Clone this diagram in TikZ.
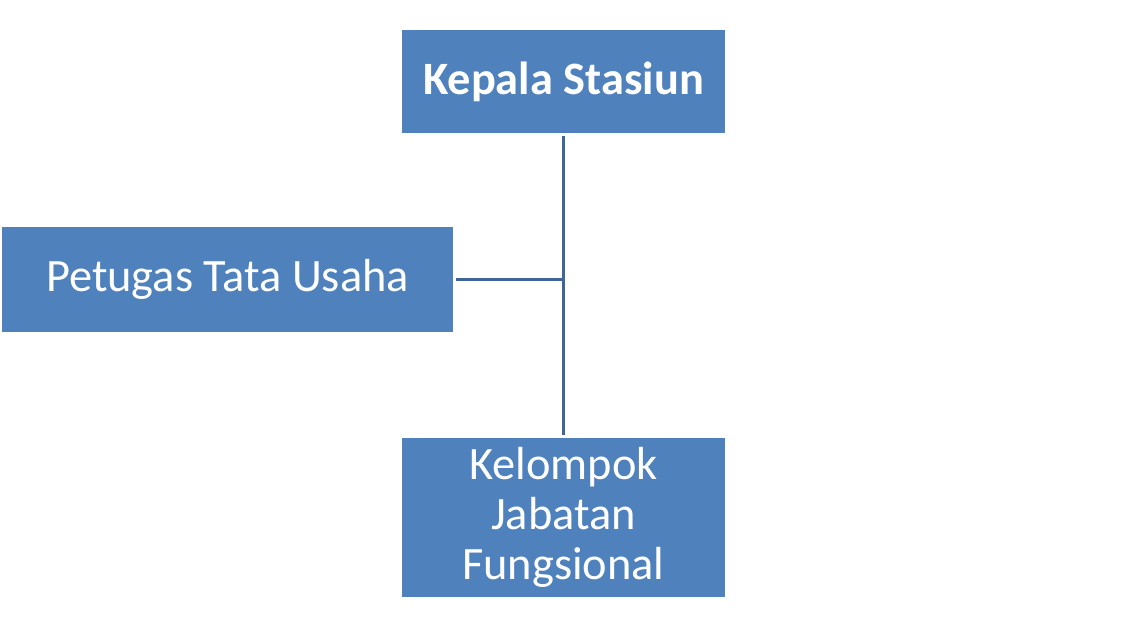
\documentclass[tikz,border=0pt]{standalone}
\usepackage{fontspec}
\setmainfont{Carlito}
\usepackage{tikz}
\usetikzlibrary{positioning, calc}

\definecolor{boxblue}{HTML}{4F81BD}
\definecolor{lineblue}{HTML}{3F6699}

\begin{document}
\begin{tikzpicture}[
    unit/.style={rectangle, fill=boxblue, text=white, align=center, outer sep=0.06cm, font=\fontsize{26.4}{28.5}\selectfont},
    conn/.style={draw=lineblue, line width=0.06cm},
    node distance=1.9cm
]
\useasboundingbox (0,0) rectangle (22.76,12.8);
\node[unit, minimum width=6.46cm, minimum height=2.06cm, font=\fontsize{26.4}{28.5}\selectfont\bfseries] (kepala) at (11.27,11.17) {Kepala Stasiun};
\node[unit, minimum width=9.02cm, minimum height=2.1cm] (petugas) at (4.55,7.21) {Petugas Tata Usaha};
\node[unit, minimum width=6.46cm, minimum height=3.18cm, below=5.98cm of kepala.south, anchor=north] (kelompok) {Kelompok\\Jabatan\\Fungsional};
\coordinate (junction) at (petugas.east -| kepala.south);

\draw[conn] (kepala.south) -- (kelompok.north);
\draw[conn] (petugas.east) -- (junction);
\end{tikzpicture}
\end{document}
